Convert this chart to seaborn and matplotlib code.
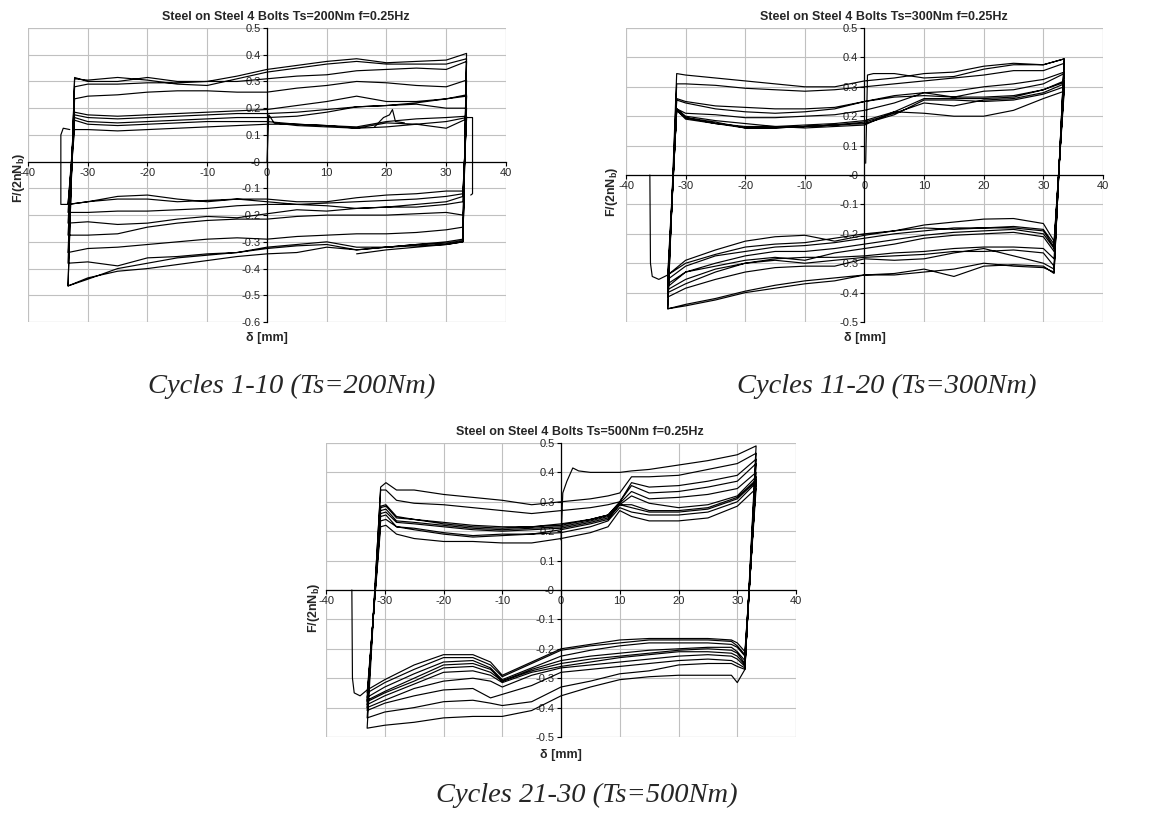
import numpy as np
import pandas as pd
import matplotlib
matplotlib.use("Agg")
import matplotlib.pyplot as plt
from matplotlib.patches import Rectangle
import seaborn as sns

sns.set_theme(style="white")
plt.rcParams["font.family"] = ["Liberation Sans", "DejaVu Sans"]
plt.rcParams["mathtext.fontset"] = "custom"
plt.rcParams["mathtext.rm"] = "Liberation Sans"
plt.rcParams["mathtext.bf"] = "Liberation Sans:bold"

nan = np.nan

# ---------------- Panel 1 : Ts=200Nm ----------------
p1_title = "Steel on Steel 4 Bolts Ts=200Nm f=0.25Hz"
p1_caption = "Cycles 1-10 (Ts=200Nm)"
p1_start_x = [0.0, 0.3, 1.2]
p1_start_y = [0.0, 0.175, 0.145]
p1_up_x = [-32.2, -30, -25, -20, -15, -10, -5, 0, 5, 10, 15, 20, 25, 30, 33.4]
p1_up = [
    [nan, nan, nan, nan, nan, nan, nan, nan, 0.135, 0.13, 0.125, 0.145, 0.14, 0.15, 0.165],
    [0.12, 0.12, 0.115, 0.12, 0.125, 0.13, 0.135, 0.14, 0.14, 0.135, 0.125, 0.13, 0.14, 0.125, 0.16],
    [0.155, 0.14, 0.135, 0.14, 0.145, 0.15, 0.15, 0.15, 0.14, 0.135, 0.13, 0.15, 0.16, 0.165, 0.17],
    [0.175, 0.165, 0.16, 0.165, 0.17, 0.175, 0.18, 0.18, 0.185, 0.195, 0.205, 0.21, 0.215, 0.20, 0.20],
    [0.185, 0.175, 0.17, 0.175, 0.18, 0.185, 0.19, 0.195, 0.21, 0.225, 0.245, 0.225, 0.225, 0.235, 0.25],
    [0.165, 0.15, 0.145, 0.15, 0.155, 0.16, 0.165, 0.165, 0.17, 0.185, 0.205, 0.21, 0.22, 0.235, 0.245],
    [0.235, 0.245, 0.25, 0.26, 0.265, 0.265, 0.26, 0.26, 0.275, 0.285, 0.30, 0.295, 0.285, 0.28, 0.305],
    [0.28, 0.29, 0.29, 0.295, 0.295, 0.30, 0.30, 0.31, 0.32, 0.325, 0.34, 0.345, 0.35, 0.345, 0.375],
    [0.31, 0.305, 0.315, 0.305, 0.29, 0.285, 0.31, 0.335, 0.35, 0.365, 0.375, 0.365, 0.365, 0.365, 0.385],
    [0.315, 0.30, 0.30, 0.315, 0.30, 0.30, 0.32, 0.345, 0.36, 0.375, 0.385, 0.37, 0.375, 0.38, 0.405],
]
p1_lo_x = [-33.3, -30, -25, -20, -15, -10, -5, 0, 5, 10, 15, 20, 25, 30, 32.8]
p1_lo = [
    [-0.16, -0.15, -0.13, -0.125, -0.14, -0.15, -0.14, -0.14, -0.15, -0.15, -0.135, -0.125, -0.12, -0.11, -0.11],
    [-0.16, -0.15, -0.14, -0.14, -0.15, -0.145, -0.14, -0.15, -0.16, -0.165, -0.175, -0.17, -0.16, -0.15, -0.13],
    [-0.19, -0.19, -0.185, -0.185, -0.18, -0.175, -0.165, -0.16, -0.16, -0.155, -0.15, -0.145, -0.14, -0.13, -0.12],
    [-0.23, -0.225, -0.235, -0.23, -0.215, -0.205, -0.21, -0.195, -0.18, -0.185, -0.175, -0.17, -0.17, -0.16, -0.15],
    [-0.275, -0.275, -0.27, -0.245, -0.23, -0.22, -0.215, -0.215, -0.205, -0.20, -0.20, -0.20, -0.195, -0.19, -0.20],
    [-0.34, -0.325, -0.32, -0.31, -0.30, -0.29, -0.285, -0.29, -0.28, -0.275, -0.27, -0.27, -0.265, -0.255, -0.245],
    [-0.38, -0.375, -0.39, -0.36, -0.355, -0.345, -0.34, -0.32, -0.31, -0.30, -0.32, -0.32, -0.31, -0.30, -0.29],
    [-0.465, -0.44, -0.40, -0.38, -0.36, -0.35, -0.34, -0.325, -0.315, -0.31, -0.33, -0.32, -0.315, -0.31, -0.30],
    [-0.465, -0.435, -0.41, -0.40, -0.385, -0.37, -0.355, -0.345, -0.34, -0.32, -0.33, -0.32, -0.31, -0.305, -0.295],
    [nan, nan, nan, nan, nan, nan, nan, nan, nan, nan, -0.345, -0.33, -0.32, -0.31, -0.30],
]
p1_tail_x = []
p1_tail_y = []
# first wide cycle and the spike near 21 mm
p1_extra = [
    ([33.4, 34.4, 34.4, 34.1], [0.165, 0.165, -0.12, -0.125]),
    ([-33.3, -34.5, -34.5, -34.1, -33.0], [-0.16, -0.16, 0.10, 0.125, 0.12]),
    ([18.0, 19.5, 20.5, 21.0, 21.5, 23.0], [0.13, 0.165, 0.175, 0.195, 0.15, 0.145]),
]
p1_ylim = (-0.6, 0.5)

# ---------------- Panel 2 : Ts=300Nm ----------------
p2_title = "Steel on Steel 4 Bolts Ts=300Nm f=0.25Hz"
p2_caption = "Cycles 11-20 (Ts=300Nm)"
p2_start_x = [0.2, 0.5, 1.5]
p2_start_y = [0.04, 0.34, 0.345]
p2_up_x = [-31.5, -30, -25, -20, -15, -10, -5, 0, 5, 10, 15, 20, 25, 30, 33.5]
p2_up = [
    [nan, nan, nan, nan, nan, nan, nan, nan, 0.345, 0.33, 0.335, 0.36, 0.375, 0.375, 0.395],
    [0.345, 0.34, 0.33, 0.32, 0.31, 0.30, 0.30, 0.32, 0.33, 0.345, 0.35, 0.37, 0.38, 0.375, 0.395],
    [0.31, 0.31, 0.305, 0.295, 0.29, 0.285, 0.29, 0.30, 0.31, 0.32, 0.33, 0.34, 0.355, 0.355, 0.38],
    [0.26, 0.25, 0.235, 0.23, 0.225, 0.225, 0.23, 0.25, 0.27, 0.28, 0.285, 0.30, 0.31, 0.325, 0.35],
    [0.255, 0.245, 0.225, 0.215, 0.21, 0.215, 0.225, 0.25, 0.265, 0.27, 0.265, 0.285, 0.29, 0.31, 0.345],
    [0.225, 0.21, 0.205, 0.195, 0.195, 0.20, 0.205, 0.22, 0.245, 0.28, 0.265, 0.265, 0.27, 0.29, 0.32],
    [0.225, 0.20, 0.185, 0.175, 0.165, 0.17, 0.175, 0.185, 0.215, 0.26, 0.26, 0.26, 0.265, 0.29, 0.315],
    [0.22, 0.195, 0.18, 0.16, 0.16, 0.165, 0.17, 0.18, 0.21, 0.245, 0.235, 0.255, 0.26, 0.28, 0.31],
    [0.22, 0.19, 0.175, 0.16, 0.16, 0.165, 0.17, 0.175, 0.205, 0.255, 0.255, 0.25, 0.255, 0.275, 0.30],
    [0.225, 0.195, 0.175, 0.165, 0.165, 0.16, 0.165, 0.17, 0.215, 0.21, 0.20, 0.20, 0.22, 0.26, 0.285],
]
p2_lo_x = [-33, -30, -25, -20, -15, -10, -5, 0, 5, 10, 15, 20, 25, 30, 31.8]
p2_lo = [
    [-0.455, -0.44, -0.42, -0.395, -0.375, -0.36, -0.35, -0.34, -0.335, -0.32, -0.345, -0.31, -0.305, -0.31, -0.335],
    [-0.455, -0.445, -0.425, -0.40, -0.385, -0.37, -0.36, -0.34, -0.34, -0.33, -0.32, -0.30, -0.31, -0.315, -0.33],
    [-0.415, -0.385, -0.355, -0.33, -0.315, -0.31, -0.31, -0.285, -0.29, -0.285, -0.265, -0.25, -0.275, -0.30, -0.32],
    [-0.40, -0.37, -0.33, -0.30, -0.29, -0.30, -0.29, -0.28, -0.275, -0.27, -0.26, -0.26, -0.255, -0.265, -0.31],
    [-0.39, -0.355, -0.32, -0.30, -0.285, -0.28, -0.28, -0.275, -0.265, -0.26, -0.25, -0.245, -0.245, -0.25, -0.285],
    [-0.38, -0.33, -0.31, -0.29, -0.28, -0.29, -0.265, -0.25, -0.235, -0.215, -0.205, -0.20, -0.195, -0.21, -0.26],
    [-0.37, -0.33, -0.30, -0.275, -0.26, -0.26, -0.25, -0.235, -0.22, -0.205, -0.195, -0.19, -0.185, -0.20, -0.25],
    [-0.355, -0.31, -0.275, -0.26, -0.245, -0.24, -0.23, -0.215, -0.20, -0.19, -0.18, -0.18, -0.18, -0.19, -0.245],
    [-0.34, -0.30, -0.27, -0.245, -0.235, -0.23, -0.215, -0.20, -0.19, -0.18, -0.185, -0.18, -0.175, -0.185, -0.235],
    [-0.34, -0.29, -0.255, -0.225, -0.21, -0.205, -0.225, -0.205, -0.19, -0.17, -0.16, -0.15, -0.148, -0.165, -0.225],
]
p2_tail_x = [-34.5, -35.6, -35.9, -36.0]
p2_tail_y = [-0.355, -0.345, -0.30, 0.0]
p2_extra = []
p2_ylim = (-0.5, 0.5)

# ---------------- Panel 3 : Ts=500Nm ----------------
p3_title = "Steel on Steel 4 Bolts Ts=500Nm f=0.25Hz"
p3_caption = "Cycles 21-30 (Ts=500Nm)"
p3_start_x = [0.0, 0.3, 1.0, 2.0, 3.0]
p3_start_y = [0.17, 0.33, 0.37, 0.415, 0.405]
p3_up_x = [-30.7, -29.8, -28, -25, -20, -15, -10, -5, 0, 5, 8, 10, 12, 15, 20, 25, 30, 33.2]
p3_up = [
    [nan, nan, nan, nan, nan, nan, nan, nan, nan, 0.40, 0.40, 0.40, 0.405, 0.41, 0.425, 0.44, 0.46, 0.49],
    [0.35, 0.365, 0.34, 0.34, 0.325, 0.315, 0.305, 0.29, 0.30, 0.31, 0.32, 0.33, 0.385, 0.385, 0.39, 0.41, 0.43, 0.465],
    [0.34, 0.34, 0.305, 0.295, 0.29, 0.28, 0.27, 0.26, 0.27, 0.28, 0.29, 0.30, 0.365, 0.35, 0.355, 0.37, 0.39, 0.445],
    [0.285, 0.29, 0.25, 0.24, 0.225, 0.215, 0.21, 0.215, 0.22, 0.24, 0.255, 0.30, 0.355, 0.33, 0.335, 0.35, 0.37, 0.43],
    [0.28, 0.285, 0.245, 0.24, 0.23, 0.22, 0.215, 0.215, 0.225, 0.24, 0.255, 0.295, 0.335, 0.31, 0.315, 0.325, 0.345, 0.40],
    [0.27, 0.275, 0.235, 0.23, 0.22, 0.21, 0.205, 0.21, 0.215, 0.235, 0.25, 0.29, 0.32, 0.295, 0.28, 0.29, 0.32, 0.385],
    [0.26, 0.265, 0.23, 0.225, 0.215, 0.205, 0.20, 0.205, 0.21, 0.23, 0.245, 0.29, 0.29, 0.27, 0.27, 0.28, 0.315, 0.375],
    [0.25, 0.255, 0.215, 0.21, 0.195, 0.185, 0.19, 0.19, 0.205, 0.225, 0.24, 0.29, 0.28, 0.265, 0.265, 0.275, 0.31, 0.37],
    [0.235, 0.24, 0.215, 0.205, 0.19, 0.18, 0.185, 0.19, 0.195, 0.215, 0.235, 0.28, 0.265, 0.255, 0.255, 0.265, 0.30, 0.365],
    [0.215, 0.22, 0.19, 0.175, 0.165, 0.165, 0.16, 0.16, 0.175, 0.195, 0.215, 0.27, 0.25, 0.235, 0.235, 0.245, 0.285, 0.345],
]
p3_lo_x = [-33, -30, -25, -20, -15, -12, -10, -5, 0, 5, 10, 15, 20, 25, 29, 30, 31.3]
p3_lo = [
    [-0.47, -0.46, -0.45, -0.435, -0.43, -0.43, -0.43, -0.41, -0.36, -0.33, -0.305, -0.295, -0.29, -0.29, -0.29, -0.315, -0.27],
    [-0.435, -0.415, -0.40, -0.38, -0.375, -0.385, -0.393, -0.38, -0.33, -0.31, -0.285, -0.275, -0.255, -0.25, -0.25, -0.26, -0.27],
    [-0.41, -0.385, -0.36, -0.34, -0.335, -0.367, -0.355, -0.325, -0.28, -0.27, -0.26, -0.25, -0.24, -0.235, -0.24, -0.25, -0.265],
    [-0.40, -0.375, -0.335, -0.31, -0.30, -0.31, -0.33, -0.29, -0.265, -0.255, -0.245, -0.235, -0.225, -0.22, -0.225, -0.235, -0.26],
    [-0.39, -0.36, -0.32, -0.28, -0.275, -0.29, -0.315, -0.28, -0.26, -0.245, -0.23, -0.22, -0.21, -0.21, -0.215, -0.225, -0.255],
    [-0.38, -0.35, -0.31, -0.265, -0.26, -0.28, -0.31, -0.275, -0.25, -0.235, -0.225, -0.215, -0.205, -0.20, -0.205, -0.215, -0.25],
    [-0.375, -0.345, -0.30, -0.255, -0.25, -0.27, -0.31, -0.27, -0.24, -0.225, -0.215, -0.205, -0.20, -0.195, -0.195, -0.21, -0.24],
    [-0.365, -0.33, -0.285, -0.245, -0.24, -0.265, -0.305, -0.265, -0.225, -0.205, -0.19, -0.18, -0.18, -0.18, -0.185, -0.195, -0.225],
    [-0.35, -0.315, -0.27, -0.23, -0.23, -0.255, -0.295, -0.25, -0.205, -0.19, -0.18, -0.17, -0.17, -0.17, -0.175, -0.19, -0.22],
    [-0.34, -0.305, -0.255, -0.22, -0.22, -0.245, -0.29, -0.245, -0.20, -0.185, -0.17, -0.165, -0.165, -0.165, -0.17, -0.18, -0.21],
]
p3_tail_x = [-34.2, -35.2, -35.5, -35.6]
p3_tail_y = [-0.36, -0.35, -0.30, 0.0]
p3_extra = []
p3_ylim = (-0.5, 0.5)


def loop_frame(start_x, start_y, up_x, ups, lo_x, los, tail_x, tail_y, extra):
    xs, ys = list(start_x), list(start_y)
    for up, lo in zip(ups, los):
        for x, y in zip(up_x, up):
            if not np.isnan(y):
                xs.append(x)
                ys.append(y)
        for x, y in zip(lo_x[::-1], lo[::-1]):
            if not np.isnan(y):
                xs.append(x)
                ys.append(y)
    xs += tail_x
    ys += tail_y
    parts = [pd.DataFrame({"x": xs, "y": ys, "part": 0})]
    for i, (ex, ey) in enumerate(extra):
        parts.append(pd.DataFrame({"x": ex, "y": ey, "part": i + 1}))
    return pd.concat(parts, ignore_index=True)


def draw_panel(ax, df, ylim, title, ylab_pos, xlab_y):
    sns.lineplot(data=df, x="x", y="y", units="part", estimator=None, sort=False,
                 color="black", linewidth=0.85, ax=ax, legend=False)
    ax.set_xlim(-40, 40)
    ax.set_ylim(*ylim)
    xt = np.arange(-40, 41, 10)
    yt = np.round(np.arange(ylim[0], ylim[1] + 0.01, 0.1), 1)
    ax.set_xticks(xt)
    ax.set_yticks(yt)
    ax.set_xticklabels([f"{v:g}" for v in xt])
    ax.set_yticklabels([f"{v:g}" for v in yt])
    ax.get_xticklabels()[0].set_horizontalalignment("left")
    ax.grid(True, color="#c0c0c0", linewidth=0.8)
    ax.set_axisbelow(True)
    for s in ["top", "right"]:
        ax.spines[s].set_visible(False)
    ax.spines["left"].set_position(("data", 0))
    ax.spines["bottom"].set_position(("data", 0))
    for s in ["left", "bottom"]:
        ax.spines[s].set_color("black")
        ax.spines[s].set_linewidth(0.9)
    ax.add_patch(Rectangle((0, 0), 1, 1, transform=ax.transAxes, fill=False,
                           edgecolor="#c0c0c0", linewidth=0.8, zorder=0))
    ax.tick_params(axis="both", direction="out", length=3, width=0.8, color="black",
                   labelsize=8, pad=1.5, left=True, bottom=True)
    ax.set_xlabel("")
    ax.set_ylabel("")
    ax.text(0.54, 1.037, title, transform=ax.transAxes, ha="center", va="center",
            fontsize=9, fontweight="bold")
    ax.text(ylab_pos[0], ylab_pos[1], r"$\mathbf{F/(2nN_b)}$", transform=ax.transAxes,
            rotation=90, ha="center", va="center", fontsize=9)
    ax.text(0.5, xlab_y, "δ [mm]", transform=ax.transAxes, ha="center", va="center",
            fontsize=9, fontweight="bold")


fig = plt.figure(figsize=(11.71, 8.14), dpi=100)
ax1 = fig.add_axes([0.0239, 0.6044, 0.4082, 0.3612])
ax2 = fig.add_axes([0.5346, 0.6044, 0.4073, 0.3612])
ax3 = fig.add_axes([0.2784, 0.0946, 0.4014, 0.3612])

df1 = loop_frame(p1_start_x, p1_start_y, p1_up_x, p1_up, p1_lo_x, p1_lo, p1_tail_x, p1_tail_y, p1_extra)
df2 = loop_frame(p2_start_x, p2_start_y, p2_up_x, p2_up, p2_lo_x, p2_lo, p2_tail_x, p2_tail_y, p2_extra)
df3 = loop_frame(p3_start_x, p3_start_y, p3_up_x, p3_up, p3_lo_x, p3_lo, p3_tail_x, p3_tail_y, p3_extra)

draw_panel(ax1, df1, p1_ylim, p1_title, (-0.019, 0.49), -0.055)
draw_panel(ax2, df2, p2_ylim, p2_title, (-0.029, 0.442), -0.055)
draw_panel(ax3, df3, p3_ylim, p3_title, (-0.026, 0.439), -0.061)

cap_font = dict(family=["Liberation Serif", "DejaVu Serif"], style="italic", fontsize=20.5,
                ha="center", va="center")
fig.text(292 / 1171, 1 - 386 / 814, p1_caption, **cap_font)
fig.text(887 / 1171, 1 - 386 / 814, p2_caption, **cap_font)
fig.text(587 / 1171, 1 - 795 / 814, p3_caption, **cap_font)

fig.savefig("out.png", dpi=100, facecolor="white")
